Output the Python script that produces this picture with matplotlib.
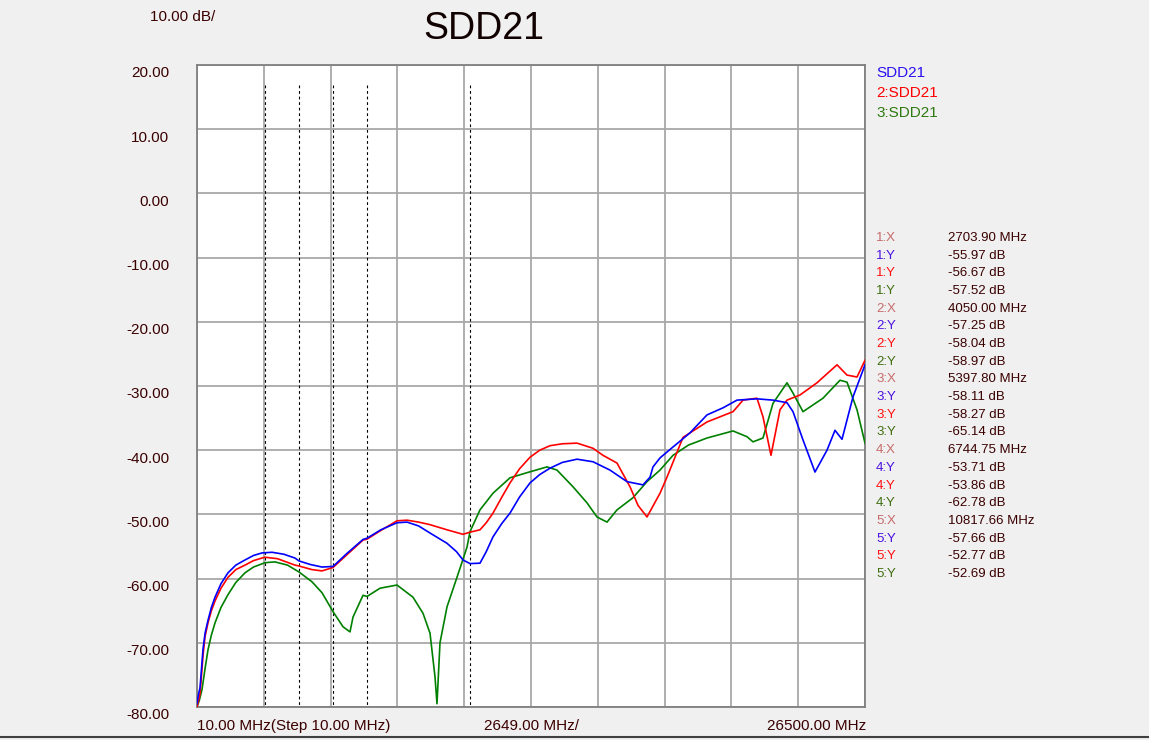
import numpy as np
import matplotlib
matplotlib.use('Agg')
from matplotlib import pyplot as plt

plt.rcParams['font.family'] = ['Liberation Sans', 'DejaVu Sans']

# traces, frequency in MHz, level in dB
blue_f = [10, 70, 129, 190, 248, 330, 446, 580, 724, 960, 1239, 1550, 1913, 2250, 2588,
          2707, 2984, 3450, 3896, 4055, 4500, 4967, 5403, 5950, 6593, 6752, 7300, 7941,
          8338, 8800, 9250, 9924, 10300, 10558, 10836, 11232, 11480, 11748, 12100, 12422,
          12800, 13215, 13600, 14009, 14500, 15080, 15714, 16388, 17062, 17697, 17974,
          18093, 18371, 18886, 19560, 20235, 20869, 21424, 22217, 22852, 23407, 23645,
          24041, 24517, 24993, 25310, 25588, 26024, 26500]
blue_db = [-79.5, -78.0, -77.0, -74.0, -71.0, -68.5, -66.5, -64.5, -62.9, -60.8, -59.1,
           -57.9, -57.1, -56.4, -56.0, -55.97, -55.9, -56.2, -56.8, -57.25, -57.8, -58.2,
           -58.11, -56.1, -53.9, -53.71, -52.4, -51.3, -51.2, -51.8, -52.9, -54.5, -55.8,
           -57.1, -57.66, -57.6, -55.8, -53.5, -51.4, -49.8, -47.3, -45.1, -43.8, -42.8,
           -41.9, -41.4, -41.8, -43.1, -44.9, -45.4, -44.2, -42.6, -41.2, -39.5, -37.3,
           -34.5, -33.4, -32.2, -32.0, -32.2, -32.6, -34.0, -38.4, -43.4, -40.0, -36.9,
           -38.3, -31.7, -26.7]

red_f = [10, 70, 129, 190, 248, 330, 446, 580, 724, 960, 1239, 1550, 1913, 2250, 2588,
         2707, 3200, 3896, 4055, 4570, 4967, 5403, 5950, 6593, 6752, 7300, 7941, 8338,
         8800, 9250, 9924, 10558, 10836, 11232, 11480, 11748, 12100, 12422, 12800, 13215,
         13600, 14009, 14500, 15080, 15714, 16110, 16665, 17181, 17500, 17855, 18371,
         18648, 19283, 20235, 21266, 21662, 22217, 22455, 22772, 23129, 23407, 23922,
         24597, 25390, 25786, 26183, 26500]
red_db = [-80.0, -79.0, -78.0, -75.0, -72.0, -69.0, -66.9, -65.0, -63.5, -61.5, -59.8,
          -58.6, -57.9, -57.2, -56.8, -56.67, -56.9, -57.9, -58.04, -58.6, -58.8, -58.27,
          -56.3, -54.0, -53.86, -52.5, -51.0, -50.9, -51.2, -51.6, -52.4, -53.1, -52.77,
          -52.4, -51.3, -49.8, -47.3, -45.1, -42.9, -41.1, -40.0, -39.3, -39.0, -38.9,
          -39.7, -40.8, -42.0, -45.7, -48.6, -50.4, -46.7, -44.2, -38.0, -35.6, -34.0,
          -32.2, -31.9, -34.8, -40.8, -33.7, -32.2, -31.4, -29.5, -26.7, -28.3, -28.6,
          -26.0]

green_f = [10, 100, 208, 330, 446, 580, 724, 960, 1239, 1550, 1913, 2250, 2588, 2707,
           3103, 3600, 4055, 4570, 4967, 5403, 5800, 6077, 6196, 6593, 6752, 7267, 7941,
           8576, 8972, 9250, 9448, 9527, 9646, 9924, 10320, 10717, 10836, 11232, 11748,
           12422, 13096, 13890, 14286, 14921, 15476, 15872, 16269, 16665, 17300, 17855,
           18371, 18886, 19500, 20235, 21266, 21821, 22059, 22455, 22852, 23407, 23645,
           24041, 24835, 25509, 25786, 26183, 26500]
green_db = [-80.0, -79.0, -77.3, -74.0, -71.1, -68.8, -66.9, -64.5, -62.5, -60.6, -59.1,
            -58.2, -57.7, -57.52, -57.4, -57.9, -58.97, -60.5, -62.2, -65.14, -67.5, -68.3,
            -66.0, -62.6, -62.78, -61.5, -61.0, -62.9, -65.4, -68.5, -75.3, -79.5, -70.0,
            -64.4, -59.8, -55.1, -52.69, -49.3, -46.7, -44.3, -43.5, -42.6, -43.1, -45.7,
            -48.2, -50.4, -51.2, -49.3, -47.4, -44.9, -43.1, -40.8, -39.2, -38.1, -37.0,
            -37.9, -38.7, -38.1, -32.7, -29.5, -31.1, -34.0, -31.9, -29.1, -29.4, -33.7,
            -38.9]

marker_f = [2703.90, 4050.00, 5397.80, 6744.75, 10817.66]
marker_blue = [-55.97, -57.25, -58.11, -53.71, -57.66]
marker_red = [-56.67, -58.04, -58.27, -53.86, -52.77]
marker_green = [-57.52, -58.97, -65.14, -62.78, -52.69]

f_start, f_stop, f_step = 10.0, 26500.0, 2649.0
y_ticks = list(range(20, -90, -10))

W, H = 1149, 740
fig = plt.figure(figsize=(W / 100, H / 100), dpi=100, facecolor='#f0f0f0')
ax = fig.add_axes([197 / W, 1 - 707 / H, 668 / W, 642 / H])
ax.set_facecolor('white')
ax.set_xlim(f_start, f_stop)
ax.set_ylim(-80, 20)
ax.set_xticks([f_start + f_step * i for i in range(11)])
ax.set_yticks(y_ticks)
ax.tick_params(length=0, labelbottom=False, labelleft=False)
ax.grid(True, color='#a8a8a8', lw=1.3)
for s in ax.spines.values():
    s.set_color('#808080')
    s.set_linewidth(1.3)

for f in marker_f:
    ax.plot([f, f], [16.9, -80], color='black', lw=0.8, ls=(0, (2.5, 2.5)), zorder=3)

ax.plot(green_f, green_db, color='#008000', lw=1.2, zorder=4)
ax.plot(red_f, red_db, color='#ff0000', lw=1.2, zorder=5)
ax.plot(blue_f, blue_db, color='#0000ff', lw=1.2, zorder=6)

txt_col = '#3a0000'
for v in y_ticks:
    ax.annotate('%.2f' % v, xy=(0, v), xycoords=('axes fraction', 'data'),
                xytext=(-20, -6), textcoords='offset points',
                ha='right', va='center', fontsize=11, color=txt_col)

fig.text(150 / W, 1 - 17 / H, '10.00 dB/', fontsize=11, color=txt_col, va='center')
fig.text(484 / W, 1 - 29 / H, 'SDD21', fontsize=27, color='#100000', ha='center', va='center')

fig.text(197 / W, 1 - 726 / H, '10.00 MHz(Step 10.00 MHz)', fontsize=11, color=txt_col, va='center')
fig.text(531 / W, 1 - 726 / H, '2649.00 MHz/', fontsize=11, color=txt_col, ha='center', va='center')
fig.text(866 / W, 1 - 726 / H, '26500.00 MHz', fontsize=11, color=txt_col, ha='right', va='center')

legend_names = ['SDD21', '2:SDD21', '3:SDD21']
legend_cols = ['#2a10f0', '#ff0000', '#2e7a10']
for i, (n, c) in enumerate(zip(legend_names, legend_cols)):
    fig.text(876 / W, 1 - (73 + 20 * i) / H, n, fontsize=11, color=c, va='center')

x_col = '#c86a6a'
y_cols = ['#4a10e0', '#ff1010', '#3f6e10']
rows = []
for k in range(len(marker_f)):
    rows.append(('%d:X' % (k + 1), '%.2f MHz' % marker_f[k], x_col))
    for vals, c in zip([marker_blue, marker_red, marker_green], y_cols):
        rows.append(('%d:Y' % (k + 1), '%.2f dB' % vals[k], c))
for i, (lab, val, c) in enumerate(rows):
    y = 1 - (238 + 17.68 * i) / H
    fig.text(876 / W, y, lab, fontsize=9.5, color=c, va='center')
    fig.text(948 / W, y, val, fontsize=9.5, color=txt_col, va='center')

fig.add_artist(plt.Line2D([0, 1], [1 - 737 / H, 1 - 737 / H], color='#404040', lw=1.5))

fig.savefig('out.png', dpi=100, facecolor=fig.get_facecolor())
